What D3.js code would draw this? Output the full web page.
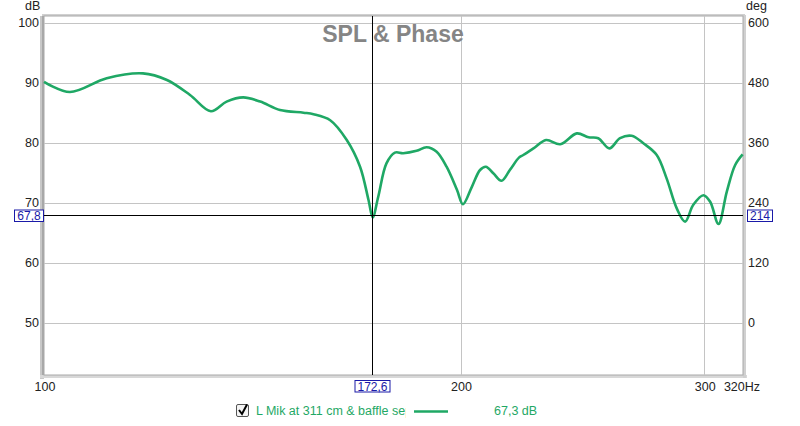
<!DOCTYPE html>
<html><head><meta charset="utf-8">
<script src="https://cdn.jsdelivr.net/npm/d3@7"></script>
<style>
html,body{margin:0;padding:0;background:#fff;}
svg{display:block;font-family:"Liberation Sans",Arial,sans-serif;}
</style></head>
<body>
<svg id="c" width="800" height="426"></svg>
<script>
// ---- data ----
const freqs = [100,104.4,111.0,117.9,122.7,127.5,132.0,135.5,139.3,143.3,148.1,154.0,156.6,161.0,165.5,169.2,171.6,172.8,174.4,176.8,179.3,181.8,185.9,189.0,192.2,195.4,198.8,200.8,203.8,206.6,208.6,211.2,214.1,217.1,220.5,222.0,225.8,230.6,236.1,242.7,247.5,251.5,256.2,260.8,265.9,271.1,277.2,281.8,286.6,290.6,294.6,299.6,303.0,307.2,311.5,315.8,319.8];
const splDb = [90.2,88.5,90.8,91.6,90.5,88.0,85.3,86.9,87.6,86.9,85.5,85.05,84.8,83.8,80.5,76.05,70.5,67.6,71.05,76.6,78.4,78.3,78.7,79.3,78.55,76.05,72.2,69.8,72.7,75.5,76.05,74.95,73.7,75.5,77.6,78.0,79.1,80.5,79.8,81.6,80.95,80.8,79.1,80.8,81.2,79.95,78.0,74.1,69.1,66.9,69.7,71.3,70.2,66.5,71.9,76.3,78.1];
const dbTicks = [100,90,80,70,60,50];
const degTicks = [600,480,360,240,120,0];
const freqTicks = [100,200,300];
const freqTickLabels = ["100","200","300"];
const endLabel = "320Hz";
const cursorFreq = 172.6, cursorFreqLabel = "172,6";
const cursorDb = 67.8, cursorDbLabel = "67,8";
const cursorDeg = 214, cursorDegLabel = "214";
const title = "SPL & Phase";
const legendName = "L Mik at 311 cm & baffle sep";
const legendValue = "67,3 dB";

// ---- layout ----
const L = 44, R = 743, T = 16, B = 375;
const svg = d3.select("#c");
const x = d3.scaleLog().domain([100, 320]).range([L, R]);
const y = d3.scaleLinear().domain([100, 50]).range([23, 323]);
const yr = d3.scaleLinear().domain([600, 0]).range([23, 323]);
const green = "#1fa865";
const blue = "#1a1aa8";

// frame shadow
svg.append("rect").attr("x", L-4).attr("y", T).attr("width", 4).attr("height", B-T+4).attr("fill", "#c8c8c8");
svg.append("rect").attr("x", L-2).attr("y", T).attr("width", 2).attr("height", B-T+2).attr("fill", "#a8a8a8");
svg.append("rect").attr("x", L-4).attr("y", B).attr("width", R-L+8).attr("height", 3).attr("fill", "#d8d8d8");
svg.append("rect").attr("x", R).attr("y", T-1).attr("width", 3).attr("height", B-T+4).attr("fill", "#d0d0d0");
svg.append("rect").attr("x", L-2).attr("y", T-2).attr("width", R-L+4).attr("height", 2).attr("fill", "#d0d0d0");
svg.append("rect").attr("x", L).attr("y", T).attr("width", R-L).attr("height", B-T).attr("fill", "#fff").attr("stroke", "#a8a8a8").attr("stroke-width", 1);

// grid
const g = svg.append("g");
g.selectAll(".hg").data(dbTicks).enter().append("line")
  .attr("x1", L).attr("x2", R).attr("y1", d => Math.round(y(d))+0.5).attr("y2", d => Math.round(y(d))+0.5)
  .attr("stroke", "#c4c4c4");
g.selectAll(".vg").data(freqTicks.filter(d => d > 100)).enter().append("line")
  .attr("y1", T).attr("y2", B).attr("x1", d => Math.round(x(d))+0.5).attr("x2", d => Math.round(x(d))+0.5)
  .attr("stroke", "#c4c4c4");

// title
svg.append("text").attr("x", 393).attr("y", 42).attr("text-anchor", "middle")
  .attr("font-size", 23).attr("font-weight", "bold").attr("fill", "#858585").text(title);

// axis labels
const fs = 12.5;
svg.append("text").attr("x", 25).attr("y", 10).attr("font-size", fs).attr("fill", "#222").text("dB");
svg.append("text").attr("x", 746).attr("y", 10).attr("font-size", fs).attr("fill", "#222").text("deg");
svg.selectAll(".yl").data(dbTicks).enter().append("text")
  .attr("x", 39).attr("y", d => y(d)+4).attr("text-anchor", "end").attr("font-size", fs).attr("fill", "#222").text(d => d);
svg.selectAll(".yrl").data(degTicks).enter().append("text")
  .attr("x", 748).attr("y", d => yr(d)+4).attr("font-size", fs).attr("fill", "#222").text(d => d);
svg.selectAll(".xl").data(freqTicks).enter().append("text")
  .attr("x", d => x(d)+1).attr("y", 391).attr("text-anchor", "middle").attr("font-size", fs).attr("fill", "#222")
  .text((d,i) => freqTickLabels[i]);
svg.append("text").attr("x", 742).attr("y", 391).attr("text-anchor", "middle").attr("font-size", fs).attr("fill", "#222").text(endLabel);

// curve
const line = d3.line().x((d,i) => x(freqs[i])).y(d => y(d)).curve(d3.curveCatmullRom.alpha(0.5));
svg.append("path").datum(splDb).attr("d", line).attr("fill", "none").attr("stroke", green).attr("stroke-width", 2.6)
  .attr("stroke-linejoin", "round");

// cursors
const cx = Math.round(x(cursorFreq))+0.5, cy = Math.round(y(cursorDb))-0.5;
svg.append("line").attr("x1", cx).attr("x2", cx).attr("y1", T).attr("y2", B).attr("stroke", "#000");
svg.append("line").attr("x1", L).attr("x2", R).attr("y1", cy).attr("y2", cy).attr("stroke", "#000");
function box(xc, yc, w, txt) {
  svg.append("rect").attr("x", xc).attr("y", yc).attr("width", w).attr("height", 11.5).attr("fill", "#fff").attr("stroke", blue);
  svg.append("text").attr("x", xc + w/2).attr("y", yc + 10).attr("text-anchor", "middle").attr("font-size", 12).attr("fill", blue).text(txt);
}
box(14.5, cy-5.5, 29, cursorDbLabel);
box(747.5, cy-5.5, 25, cursorDegLabel);
box(cx-17.5, 380.5, 35, cursorFreqLabel);

// legend
const lg = svg.append("g");
lg.append("rect").attr("x", 236.5).attr("y", 404.5).attr("width", 12).attr("height", 12).attr("rx", 1.5)
  .attr("fill", "#f4f4f4").attr("stroke", "#555");
lg.append("path").attr("d", "M239,410 L242,414 L247,404.5").attr("fill", "none").attr("stroke", "#000").attr("stroke-width", 2);
svg.append("clipPath").attr("id", "lc").append("rect").attr("x", 250).attr("y", 398).attr("width", 156).attr("height", 20);
lg.append("text").attr("x", 256).attr("y", 415).attr("font-size", fs).attr("fill", green).attr("clip-path", "url(#lc)").text(legendName);
lg.append("line").attr("x1", 414).attr("x2", 448).attr("y1", 411.5).attr("y2", 411.5).attr("stroke", green).attr("stroke-width", 2.6);
lg.append("text").attr("x", 494).attr("y", 415).attr("font-size", fs).attr("fill", green).text(legendValue);
</script>
</body></html>
